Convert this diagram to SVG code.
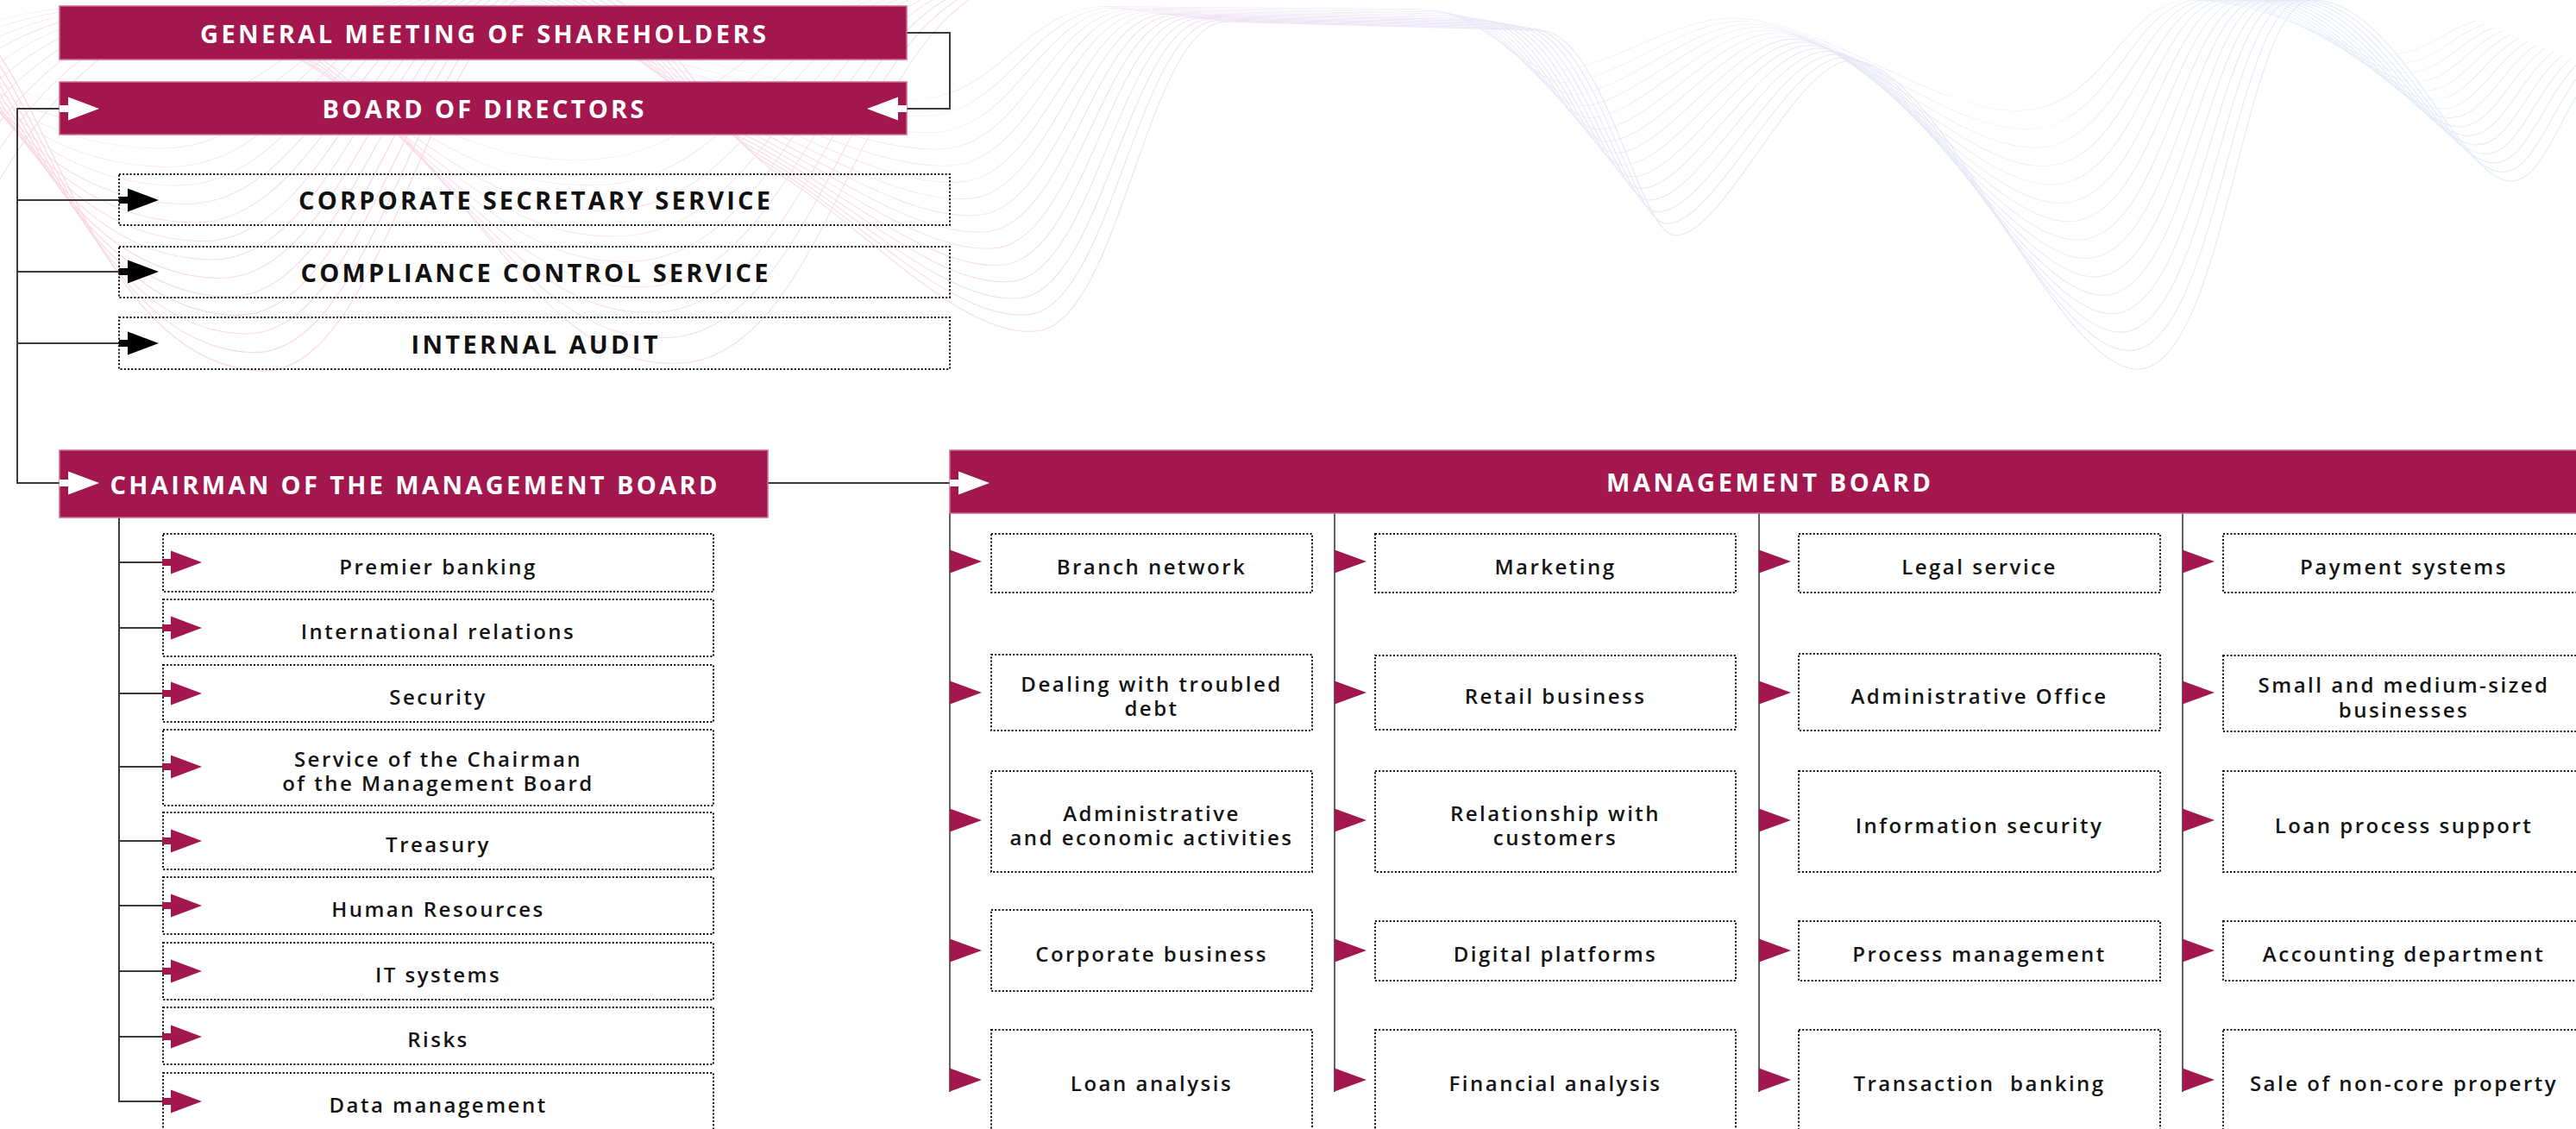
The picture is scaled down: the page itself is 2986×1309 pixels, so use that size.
<svg xmlns="http://www.w3.org/2000/svg" xmlns:xlink="http://www.w3.org/1999/xlink" width="2986" height="1309" viewBox="0 0 2986 1309">
  <style>
    .hdr { fill: #a3174f; stroke: #d06a94; stroke-width: 1.5; }
    .dot { fill: none; stroke: #111; stroke-width: 2; stroke-dasharray: 2 2.2; }
    .wire { fill: none; stroke: #3a3a3a; stroke-width: 2; }
    .ttl { font-family: 'Open Sans', 'Liberation Sans', sans-serif; font-weight: 700; font-size: 29px; fill: #fff; text-anchor: middle; }
    .ttl.dk { fill: #111; }
    .lbl { font-family: 'Open Sans', 'Liberation Sans', sans-serif; font-weight: 600; font-size: 24px; fill: #151515; text-anchor: middle; letter-spacing: 2.5px; }
    .wv { fill: none; stroke: url(#ribbonTint); stroke-width: 1.2; vector-effect: non-scaling-stroke; }
    .wp { fill: none; stroke: #f8dce9; stroke-width: 1.1; vector-effect: non-scaling-stroke; }
    .w { fill: #fff; }
    .k { fill: #000; }
    .m { fill: #a3174f; }
  </style>
  <defs>
    <!-- arrow with a short stem, pointing right, origin at stem start -->
    <polygon id="arw" points="0,-4 10,-4 10,-13.5 46,0 10,13.5 10,4 0,4"/>
    <!-- plain triangle pointer -->
    <polygon id="tri" points="0,-13.5 37,0 0,13.5"/>
    <!-- tint running along the guilloche ribbon: pink on the left, blue on the right -->
    <linearGradient id="ribbonTint" gradientUnits="userSpaceOnUse" x1="0" y1="0" x2="2986" y2="0">
      <stop offset="0" stop-color="#f7d6e5"/>
      <stop offset="0.35" stop-color="#f6dbe9"/>
      <stop offset="0.55" stop-color="#ebe5f7"/>
      <stop offset="1" stop-color="#e2ebfa"/>
    </linearGradient>
    <!-- one strand of the long ribbon -->
    <path id="strand" d="M-20,40 C60,120 120,420 300,430 C450,440 500,0 640,-20 C760,-30 820,150 900,200 C1000,260 1120,400 1208,383 C1300,360 1330,30 1420,25 L1786,35 C1860,40 1900,273 1942,273 C2000,273 2080,70 2147,70 C2250,70 2380,428 2478,428 C2580,428 2600,0 2680,0 C2780,0 2850,210 2911,210 C2950,210 2970,120 3010,80"/>
    <!-- one strand of the looping ribbon behind the upper boxes -->
    <path id="loop" d="M-60,330 C60,40 230,-60 400,90 C560,230 640,440 800,420 C930,400 980,160 1080,40 C1140,-30 1200,-40 1260,0"/>
  </defs>

  <!-- decorative background ribbons -->
  <g id="bg-waves">
    <g class="wp">
      <use xlink:href="#loop" transform="translate(0,0) scale(1,1)"/>
      <use xlink:href="#loop" transform="translate(-14,0) scale(1,0.93)"/>
      <use xlink:href="#loop" transform="translate(-28,0) scale(1,0.86)"/>
      <use xlink:href="#loop" transform="translate(-42,0) scale(1,0.79)"/>
      <use xlink:href="#loop" transform="translate(-56,0) scale(1,0.72)"/>
      <use xlink:href="#loop" transform="translate(-70,0) scale(1,0.65)"/>
      <use xlink:href="#loop" transform="translate(-84,0) scale(1,0.58)"/>
      <use xlink:href="#loop" transform="translate(-98,0) scale(1,0.51)"/>
      <use xlink:href="#loop" transform="translate(-112,0) scale(1,0.44)"/>
      <use xlink:href="#loop" transform="translate(-126,0) scale(1,0.37)"/>
    </g>
    <g class="wv">
      <use xlink:href="#strand" transform="translate(0,0) scale(1,1)"/>
      <use xlink:href="#strand" transform="translate(-10,0) scale(1,0.95)"/>
      <use xlink:href="#strand" transform="translate(-20,0) scale(1,0.9)"/>
      <use xlink:href="#strand" transform="translate(-30,0) scale(1,0.85)"/>
      <use xlink:href="#strand" transform="translate(-40,0) scale(1,0.8)"/>
      <use xlink:href="#strand" transform="translate(-50,0) scale(1,0.75)"/>
      <use xlink:href="#strand" transform="translate(-60,0) scale(1,0.7)"/>
      <use xlink:href="#strand" transform="translate(-70,0) scale(1,0.65)"/>
      <use xlink:href="#strand" transform="translate(-80,0) scale(1,0.6)"/>
      <use xlink:href="#strand" transform="translate(-90,0) scale(1,0.55)"/>
      <use xlink:href="#strand" transform="translate(-100,0) scale(1,0.5)"/>
      <use xlink:href="#strand" transform="translate(-110,0) scale(1,0.45)"/>
      <use xlink:href="#strand" transform="translate(-120,0) scale(1,0.4)"/>
      <use xlink:href="#strand" transform="translate(-130,0) scale(1,0.35)"/>
      <use xlink:href="#strand" transform="translate(-140,0) scale(1,0.3)"/>
    </g>
  </g>

  <!-- connectors -->
  <g id="connectors">
    <polyline class="wire" points="1051,38 1101,38 1101,126 1051,126"/>
    <polyline class="wire" points="69,126 20,126 20,560 69,560"/>
    <line class="wire" x1="20" y1="232" x2="138" y2="232"/>
    <line class="wire" x1="20" y1="315" x2="138" y2="315"/>
    <line class="wire" x1="20" y1="398" x2="138" y2="398"/>
    <line class="wire" x1="890" y1="560" x2="1101" y2="560"/>
    <!-- chairman branch -->
    <line class="wire" x1="138" y1="600" x2="138" y2="1278"/>
    <line class="wire" x1="138" y1="652" x2="189" y2="652"/>
    <line class="wire" x1="138" y1="728" x2="189" y2="728"/>
    <line class="wire" x1="138" y1="804" x2="189" y2="804"/>
    <line class="wire" x1="138" y1="889" x2="189" y2="889"/>
    <line class="wire" x1="138" y1="975" x2="189" y2="975"/>
    <line class="wire" x1="138" y1="1050" x2="189" y2="1050"/>
    <line class="wire" x1="138" y1="1126" x2="189" y2="1126"/>
    <line class="wire" x1="138" y1="1202" x2="189" y2="1202"/>
    <line class="wire" x1="138" y1="1277" x2="189" y2="1277"/>
    <!-- management board columns -->
    <line class="wire" x1="1101" y1="595" x2="1101" y2="1266" style="stroke-width:1.6"/>
    <line class="wire" x1="1547" y1="595" x2="1547" y2="1266" style="stroke-width:1.6"/>
    <line class="wire" x1="2039" y1="595" x2="2039" y2="1266" style="stroke-width:1.6"/>
    <line class="wire" x1="2530" y1="595" x2="2530" y2="1266" style="stroke-width:1.6"/>
  </g>

  <!-- top level -->
  <g id="general-meeting">
    <rect class="hdr" x="69" y="7" width="982" height="62"/>
    <text class="ttl" x="560" y="50" textLength="656" lengthAdjust="spacing">GENERAL MEETING OF SHAREHOLDERS</text>
  </g>
  <g id="board-of-directors">
    <rect class="hdr" x="69" y="95" width="982" height="61"/>
    <text class="ttl" x="560" y="137" textLength="373" lengthAdjust="spacing">BOARD OF DIRECTORS</text>
    <use xlink:href="#arw" class="w" transform="translate(69,126)"/>
    <use xlink:href="#arw" class="w" transform="translate(1051,126) scale(-1,1)"/>
  </g>
  <g id="corporate-secretary">
    <rect class="dot" x="138" y="202" width="963" height="59"/>
    <text class="ttl dk" x="619.5" y="243" textLength="547" lengthAdjust="spacing">CORPORATE SECRETARY SERVICE</text>
    <use xlink:href="#arw" class="k" transform="translate(138,232)"/>
  </g>
  <g id="compliance-control">
    <rect class="dot" x="138" y="286" width="963" height="59"/>
    <text class="ttl dk" x="619.5" y="326.5" textLength="542" lengthAdjust="spacing">COMPLIANCE CONTROL SERVICE</text>
    <use xlink:href="#arw" class="k" transform="translate(138,315)"/>
  </g>
  <g id="internal-audit">
    <rect class="dot" x="138" y="368" width="963" height="60"/>
    <text class="ttl dk" x="619.5" y="409.5" textLength="286" lengthAdjust="spacing">INTERNAL AUDIT</text>
    <use xlink:href="#arw" class="k" transform="translate(138,398)"/>
  </g>

  <!-- chairman and his units -->
  <g id="chairman">
    <rect class="hdr" x="69" y="522" width="821" height="78"/>
    <text class="ttl" x="479.5" y="573" textLength="704" lengthAdjust="spacing">CHAIRMAN OF THE MANAGEMENT BOARD</text>
    <use xlink:href="#arw" class="w" transform="translate(69,560)"/>
  </g>
  <g id="premier-banking">
    <rect class="dot" x="189" y="619" width="638" height="67"/>
    <text class="lbl" x="508" y="665.5">Premier banking</text>
    <use xlink:href="#arw" class="m" transform="translate(188,652)"/>
  </g>
  <g id="international-relations">
    <rect class="dot" x="189" y="695" width="638" height="66"/>
    <text class="lbl" x="508" y="741">International relations</text>
    <use xlink:href="#arw" class="m" transform="translate(188,728)"/>
  </g>
  <g id="security">
    <rect class="dot" x="189" y="771" width="638" height="66"/>
    <text class="lbl" x="508" y="817">Security</text>
    <use xlink:href="#arw" class="m" transform="translate(188,804)"/>
  </g>
  <g id="chairman-service">
    <rect class="dot" x="189" y="846" width="638" height="88"/>
    <text class="lbl" x="508" y="889">Service of the Chairman</text>
    <text class="lbl" x="508" y="917">of the Management Board</text>
    <use xlink:href="#arw" class="m" transform="translate(188,889)"/>
  </g>
  <g id="treasury">
    <rect class="dot" x="189" y="942" width="638" height="66"/>
    <text class="lbl" x="508" y="988">Treasury</text>
    <use xlink:href="#arw" class="m" transform="translate(188,975)"/>
  </g>
  <g id="human-resources">
    <rect class="dot" x="189" y="1017" width="638" height="66"/>
    <text class="lbl" x="508" y="1063">Human Resources</text>
    <use xlink:href="#arw" class="m" transform="translate(188,1050)"/>
  </g>
  <g id="it-systems">
    <rect class="dot" x="189" y="1093" width="638" height="66"/>
    <text class="lbl" x="508" y="1139">IT systems</text>
    <use xlink:href="#arw" class="m" transform="translate(188,1126)"/>
  </g>
  <g id="risks">
    <rect class="dot" x="189" y="1168" width="638" height="66"/>
    <text class="lbl" x="508" y="1214">Risks</text>
    <use xlink:href="#arw" class="m" transform="translate(188,1202)"/>
  </g>
  <g id="data-management">
    <rect class="dot" x="189" y="1244" width="638" height="70"/>
    <text class="lbl" x="508" y="1290">Data management</text>
    <use xlink:href="#arw" class="m" transform="translate(188,1277)"/>
  </g>

  <!-- management board -->
  <g id="management-board">
    <rect class="hdr" x="1101" y="522" width="1900" height="73"/>
    <text class="ttl" x="2050" y="570" textLength="376" lengthAdjust="spacing">MANAGEMENT BOARD</text>
    <use xlink:href="#arw" class="w" transform="translate(1101,560)"/>
  </g>

  <!-- column 1 -->
  <g id="branch-network">
    <rect class="dot" x="1149" y="619" width="372" height="68"/>
    <text class="lbl" x="1335" y="666">Branch network</text>
    <use xlink:href="#tri" class="m" transform="translate(1101,651)"/>
  </g>
  <g id="troubled-debt">
    <rect class="dot" x="1149" y="759" width="372" height="88"/>
    <text class="lbl" x="1335" y="802">Dealing with troubled</text>
    <text class="lbl" x="1335" y="830">debt</text>
    <use xlink:href="#tri" class="m" transform="translate(1101,803)"/>
  </g>
  <g id="admin-economic">
    <rect class="dot" x="1149" y="894" width="372" height="117"/>
    <text class="lbl" x="1335" y="952">Administrative</text>
    <text class="lbl" x="1335" y="980">and economic activities</text>
    <use xlink:href="#tri" class="m" transform="translate(1101,951)"/>
  </g>
  <g id="corporate-business">
    <rect class="dot" x="1149" y="1055" width="372" height="94"/>
    <text class="lbl" x="1335" y="1115">Corporate business</text>
    <use xlink:href="#tri" class="m" transform="translate(1101,1102)"/>
  </g>
  <g id="loan-analysis">
    <rect class="dot" x="1149" y="1194" width="372" height="120"/>
    <text class="lbl" x="1335" y="1265">Loan analysis</text>
    <use xlink:href="#tri" class="m" transform="translate(1101,1252)"/>
  </g>

  <!-- column 2 -->
  <g id="marketing">
    <rect class="dot" x="1594" y="619" width="418" height="68"/>
    <text class="lbl" x="1803" y="666">Marketing</text>
    <use xlink:href="#tri" class="m" transform="translate(1547,651)"/>
  </g>
  <g id="retail-business">
    <rect class="dot" x="1594" y="760" width="418" height="86"/>
    <text class="lbl" x="1803" y="816">Retail business</text>
    <use xlink:href="#tri" class="m" transform="translate(1547,803)"/>
  </g>
  <g id="customer-relationship">
    <rect class="dot" x="1594" y="894" width="418" height="117"/>
    <text class="lbl" x="1803" y="952">Relationship with</text>
    <text class="lbl" x="1803" y="980">customers</text>
    <use xlink:href="#tri" class="m" transform="translate(1547,951)"/>
  </g>
  <g id="digital-platforms">
    <rect class="dot" x="1594" y="1068" width="418" height="69"/>
    <text class="lbl" x="1803" y="1115">Digital platforms</text>
    <use xlink:href="#tri" class="m" transform="translate(1547,1102)"/>
  </g>
  <g id="financial-analysis">
    <rect class="dot" x="1594" y="1194" width="418" height="120"/>
    <text class="lbl" x="1803" y="1265">Financial analysis</text>
    <use xlink:href="#tri" class="m" transform="translate(1547,1252)"/>
  </g>

  <!-- column 3 -->
  <g id="legal-service">
    <rect class="dot" x="2085" y="619" width="419" height="68"/>
    <text class="lbl" x="2294.5" y="666">Legal service</text>
    <use xlink:href="#tri" class="m" transform="translate(2039,651)"/>
  </g>
  <g id="administrative-office">
    <rect class="dot" x="2085" y="758" width="419" height="89"/>
    <text class="lbl" x="2294.5" y="816">Administrative Office</text>
    <use xlink:href="#tri" class="m" transform="translate(2039,803)"/>
  </g>
  <g id="information-security">
    <rect class="dot" x="2085" y="894" width="419" height="117"/>
    <text class="lbl" x="2294.5" y="966">Information security</text>
    <use xlink:href="#tri" class="m" transform="translate(2039,951)"/>
  </g>
  <g id="process-management">
    <rect class="dot" x="2085" y="1068" width="419" height="69"/>
    <text class="lbl" x="2294.5" y="1115">Process management</text>
    <use xlink:href="#tri" class="m" transform="translate(2039,1102)"/>
  </g>
  <g id="transaction-banking">
    <rect class="dot" x="2085" y="1194" width="419" height="120"/>
    <text class="lbl" x="2294.5" y="1265" xml:space="preserve">Transaction  banking</text>
    <use xlink:href="#tri" class="m" transform="translate(2039,1252)"/>
  </g>

  <!-- column 4 -->
  <g id="payment-systems">
    <rect class="dot" x="2577" y="619" width="419" height="68"/>
    <text class="lbl" x="2786.5" y="666">Payment systems</text>
    <use xlink:href="#tri" class="m" transform="translate(2530,651)"/>
  </g>
  <g id="sme-business">
    <rect class="dot" x="2577" y="760" width="419" height="88"/>
    <text class="lbl" x="2786.5" y="803">Small and medium-sized</text>
    <text class="lbl" x="2786.5" y="832">businesses</text>
    <use xlink:href="#tri" class="m" transform="translate(2530,803)"/>
  </g>
  <g id="loan-process-support">
    <rect class="dot" x="2577" y="894" width="419" height="117"/>
    <text class="lbl" x="2786.5" y="966">Loan process support</text>
    <use xlink:href="#tri" class="m" transform="translate(2530,951)"/>
  </g>
  <g id="accounting">
    <rect class="dot" x="2577" y="1068" width="419" height="69"/>
    <text class="lbl" x="2786.5" y="1115">Accounting department</text>
    <use xlink:href="#tri" class="m" transform="translate(2530,1102)"/>
  </g>
  <g id="non-core-property">
    <rect class="dot" x="2577" y="1194" width="419" height="120"/>
    <text class="lbl" x="2786.5" y="1265">Sale of non-core property</text>
    <use xlink:href="#tri" class="m" transform="translate(2530,1252)"/>
  </g>
</svg>
